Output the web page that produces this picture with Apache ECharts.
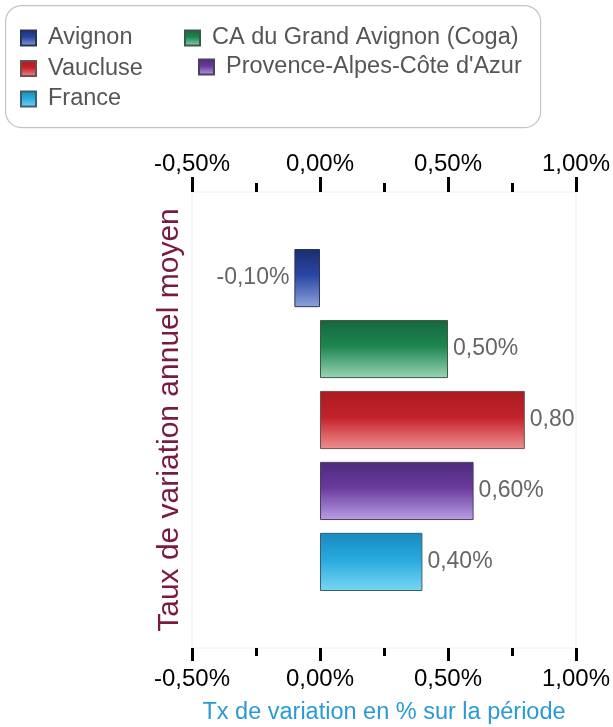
<!DOCTYPE html>
<html>
<head>
<meta charset="utf-8">
<script src="https://cdn.jsdelivr.net/npm/echarts@6/dist/echarts.min.js"></script>
<style>
html,body{margin:0;padding:0;background:#fff;}
#chart{width:613px;height:727px;}
</style>
</head>
<body>
<div id="chart"></div>
<script>
var categories = ['Taux de variation annuel moyen'];
var seriesNames = ['Avignon', 'CA du Grand Avignon (Coga)', 'Vaucluse', 'Provence-Alpes-Côte d\'Azur', 'France'];
var seriesValues = [-0.10, 0.50, 0.80, 0.60, 0.40];
var valueLabels = ['-0,10%', '0,50%', '0,80', '0,60%', '0,40%'];
var tickLabels = ['-0,50%', '0,00%', '0,50%', '1,00%'];

var colorStops = [
  ['#1b2d6e', '#2a46a4', '#8ea2dc'],
  ['#15663d', '#1d8650', '#9ad4b5'],
  ['#a81c20', '#c4212b', '#ee9090'],
  ['#4e2a7e', '#6a3a9c', '#b9a0e6'],
  ['#1a8abd', '#27a9dd', '#78d6f4']
];
var borderColors = ['#2a3555', '#3a5a48', '#6e5050', '#4a4060', '#3a6070'];

function fmtTick(v) {
  var idx = Math.round((v + 0.5) / 0.5);
  return tickLabels[idx] !== undefined ? tickLabels[idx] : '';
}

var series = seriesNames.map(function (name, i) {
  var c = colorStops[i];
  return {
    name: name,
    type: 'bar',
    data: [seriesValues[i]],
    barGap: '22%',
    barCategoryGap: '25%',
    itemStyle: {
      color: new echarts.graphic.LinearGradient(0, 0, 0, 1, [
        {offset: 0, color: c[0]},
        {offset: 0.45, color: c[1]},
        {offset: 1, color: c[2]}
      ]),
      borderColor: borderColors[i],
      borderWidth: 1
    },
    label: {
      show: true,
      position: seriesValues[i] < 0 ? 'left' : 'right',
      distance: 5,
      color: '#666',
      fontSize: 23,
      fontFamily: 'Liberation Sans',
      formatter: function () { return valueLabels[i]; }
    }
  };
});

var legendText = {color: '#555', fontSize: 23.5, fontFamily: 'Liberation Sans', padding: [0, 0, 0, 7]};
var legendItem = {icon: 'rect', itemWidth: 15, itemHeight: 15, orient: 'vertical', itemGap: 6.5, padding: 0, selectedMode: false, textStyle: legendText};

var chart = echarts.init(document.getElementById('chart'));
chart.setOption({
  animation: false,
  backgroundColor: '#fff',
  graphic: [{
    type: 'rect', left: 5, top: 5, z: -1,
    shape: {width: 535, height: 122, r: 16},
    style: {fill: '#fff', stroke: '#c4c4c4', lineWidth: 1.2}
  }],
  legend: [
    Object.assign({}, legendItem, {left: 20, top: 26, data: [seriesNames[0], seriesNames[2], seriesNames[4]]}),
    Object.assign({}, legendItem, {left: 184, top: 26, data: [seriesNames[1]]}),
    Object.assign({}, legendItem, {left: 198, top: 55, data: [seriesNames[3]]})
  ],
  grid: {left: 192, right: 37, top: 192, bottom: 79, show: true, borderColor: '#eeeeee', borderWidth: 1, outerBoundsMode: 'none', containLabel: false},
  xAxis: [
    {
      type: 'value', position: 'bottom', min: -0.5, max: 1.0, interval: 0.5,
      name: 'Tx de variation en % sur la période', nameLocation: 'middle', nameGap: 53,
      nameTextStyle: {color: '#2a9ad6', fontSize: 23.5, fontFamily: 'Liberation Sans'},
      axisLine: {show: false},
      axisTick: {show: true, length: 13, lineStyle: {color: '#000', width: 3}},
      minorTick: {show: true, splitNumber: 2, length: 8, lineStyle: {color: '#000', width: 3}},
      splitLine: {show: false},
      axisLabel: {color: '#000', fontSize: 24, fontFamily: 'Liberation Sans', margin: 19, formatter: fmtTick}
    },
    {
      type: 'value', position: 'top', min: -0.5, max: 1.0, interval: 0.5,
      axisLine: {show: false},
      axisTick: {show: true, length: 15, lineStyle: {color: '#000', width: 3}},
      minorTick: {show: true, splitNumber: 2, length: 9, lineStyle: {color: '#000', width: 3}},
      splitLine: {show: false},
      axisLabel: {color: '#000', fontSize: 24, fontFamily: 'Liberation Sans', margin: 16, formatter: fmtTick}
    }
  ],
  yAxis: {
    type: 'category', data: categories, inverse: true,
    axisLine: {show: false}, axisTick: {show: false}, axisLabel: {show: false},
    name: categories[0], nameLocation: 'middle', nameRotate: 90, nameGap: 7,
    nameTextStyle: {color: '#7a1a40', fontSize: 30, fontFamily: 'Liberation Sans'}
  },
  series: series
});
</script>
</body>
</html>
